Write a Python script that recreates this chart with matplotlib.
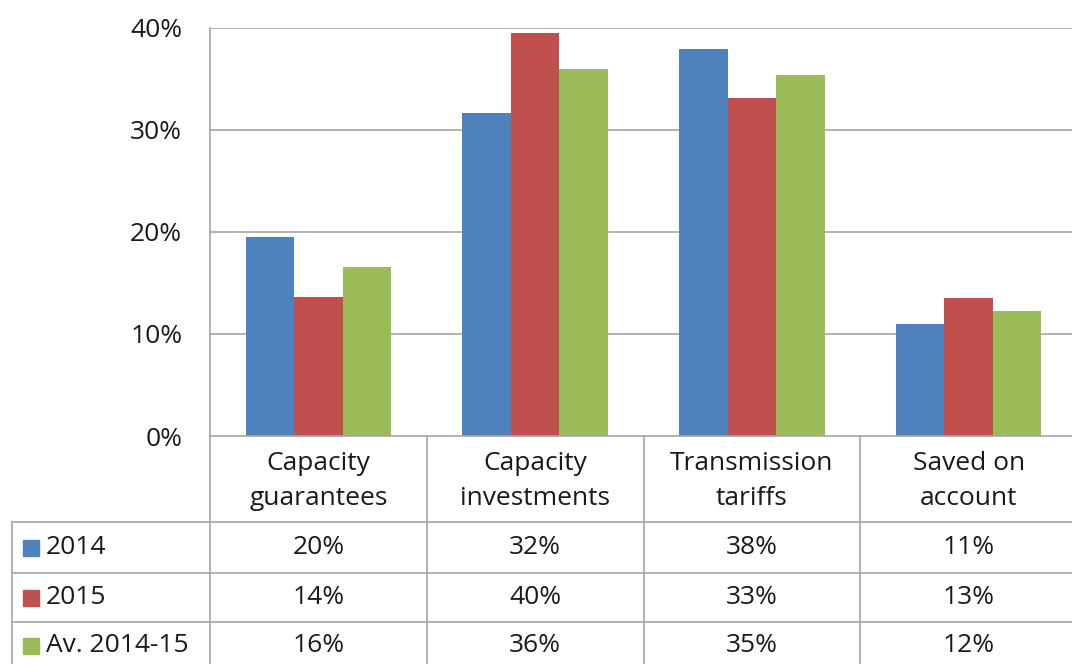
import matplotlib
matplotlib.use("Agg")
import matplotlib.pyplot as plt
import numpy as np

categories = ["Capacity\nguarantees", "Capacity\ninvestments", "Transmission\ntariffs", "Saved on\naccount"]
series_names = ["2014", "2015", "Av. 2014-15"]
v2014 = [19.5, 31.7, 37.9, 11.0]
v2015 = [13.6, 39.5, 33.1, 13.5]
vavg = [16.6, 36.0, 35.4, 12.3]
lab2014 = ["20%", "32%", "38%", "11%"]
lab2015 = ["14%", "40%", "33%", "13%"]
labavg = ["16%", "36%", "35%", "12%"]
yticks = [0, 10, 20, 30, 40]
ytick_labels = ["0%", "10%", "20%", "30%", "40%"]

colors = ["#4F81BD", "#C0504D", "#9BBB59"]
grid_c = "#A6A6A6"
text_c = "#1a1a1a"
FONT = "Open Sans"
FS = 19

W, H = 1072, 664
fig = plt.figure(figsize=(W / 100, H / 100), dpi=100)

# pixel layout
px_left, px_right = 210, 1077
px_top, px_zero = 28, 436
ax = fig.add_axes([px_left / W, 1 - px_zero / H, (px_right - px_left) / W, (px_zero - px_top) / H])
x = np.arange(len(categories))
bw = 0.224
for i, (vals, c) in enumerate(zip([v2014, v2015, vavg], colors)):
    ax.bar(x + (i - 1) * bw, vals, width=bw, color=c, zorder=3)
ax.set_xlim(-0.5, len(categories) - 0.5)
ax.set_ylim(0, 40)
ax.set_yticks(yticks)
ax.set_yticklabels(ytick_labels, fontfamily=FONT, fontsize=FS, color=text_c)
ax.tick_params(axis="y", length=0, pad=20)
ax.set_xticks([])
for y in yticks[1:]:
    ax.axhline(y, color=grid_c, lw=1.2, zorder=1)
for s in ["top", "right", "bottom"]:
    ax.spines[s].set_visible(False)
ax.spines["left"].set_color(grid_c)
ax.spines["left"].set_linewidth(1.2)

# table overlay in pixel coordinates
tx = fig.add_axes([0, 0, 1, 1], facecolor="none")
tx.set_xlim(0, W)
tx.set_ylim(H, 0)
tx.axis("off")
colw = (px_right - px_left) / len(categories)
col_edges = [px_left + k * colw for k in range(len(categories) + 1)]
row_edges = [px_zero, 522, 573, 622, 672]
lw = 1.2
# horizontal lines
tx.plot([px_left, W], [px_zero, px_zero], color=grid_c, lw=lw)
for r in row_edges[1:4]:
    tx.plot([12, W], [r, r], color=grid_c, lw=lw)
# vertical lines
for k, cx in enumerate(col_edges):
    tx.plot([cx, cx], [px_zero, H], color=grid_c, lw=lw)
tx.plot([12, 12], [row_edges[1], H], color=grid_c, lw=lw)

# header text
for k, cat in enumerate(categories):
    cx = (col_edges[k] + col_edges[k + 1]) / 2
    tx.text(cx, 481, cat, ha="center", va="center",
            fontfamily=FONT, fontsize=FS, color=text_c, linespacing=1.55)

# rows
rows = [lab2014, lab2015, labavg]
for r, (name, labs, c) in enumerate(zip(series_names, rows, colors)):
    cy = (row_edges[r + 1] + row_edges[r + 2]) / 2
    if r == 2:
        cy = 646
    tx.add_patch(plt.Rectangle((23, cy - 8), 16, 16, color=c))
    tx.text(46, cy, name, ha="left", va="center", fontfamily=FONT, fontsize=FS, color=text_c)
    for k, lab in enumerate(labs):
        cx = (col_edges[k] + col_edges[k + 1]) / 2
        tx.text(cx, cy, lab, ha="center", va="center", fontfamily=FONT, fontsize=FS, color=text_c)

fig.savefig("out.png", dpi=100)
